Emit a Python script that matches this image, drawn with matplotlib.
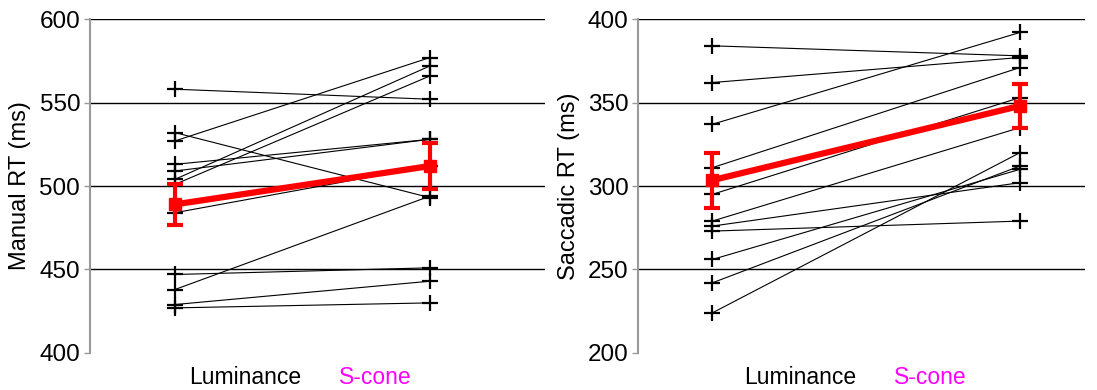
import matplotlib
matplotlib.use('Agg')
import matplotlib.pyplot as plt

plt.rcParams['font.family'] = ['Liberation Sans', 'DejaVu Sans']

#categorie e posizioni delle etichette
condizioni = ["Luminance", "S-cone"]
colori_etichette = ["black", "magenta"]

#RT manuali per soggetto (ms)
manual_lum = [558, 532, 527, 513, 509, 504, 501, 484, 447, 438, 429, 427]
manual_scone = [552, 493, 577, 528, 528, 572, 566, 512, 451, 494, 443, 430]
manual_media = [489, 512]
manual_err = [12.5, 14]

#RT saccadici per soggetto (ms)
sacc_lum = [384, 362, 337, 311, 295, 279, 276, 273, 256, 242, 224]
sacc_scone = [378, 377, 392, 371, 353, 335, 302, 279, 310, 312, 320]
sacc_media = [303.5, 348]
sacc_err = [16.5, 13]


def pannello(ax, lum, scone, media, err, ylim, ytick, ylabel, xlim, lab_x):
    for a, b in zip(lum, scone):
        ax.plot([0, 1], [a, b], color='black', lw=0.8, zorder=2)
    ax.plot([0] * len(lum), lum, '+', color='black', ms=11, mew=1.6, zorder=3)
    ax.plot([1] * len(scone), scone, '+', color='black', ms=11, mew=1.6, zorder=3)
    ax.errorbar([0, 1], media, yerr=err, color='red', lw=4.5, marker='s', ms=9,
                elinewidth=3, capsize=6, capthick=3, zorder=4)
    for t in ytick[1:]:
        ax.axhline(t, color='black', lw=1, zorder=1)
    ax.set_ylim(*ylim)
    ax.set_xlim(*xlim)
    ax.set_yticks(ytick)
    ax.set_xticks([])
    for s in ['top', 'right', 'bottom']:
        ax.spines[s].set_visible(False)
    ax.spines['left'].set_color('#999999')
    ax.spines['left'].set_linewidth(1.5)
    ax.tick_params(axis='y', colors='#999999', length=4, width=1, labelsize=17.5, pad=3)
    for lab in ax.get_yticklabels():
        lab.set_color('black')
    ax.set_ylabel(ylabel, fontsize=17, labelpad=6)
    for nome, col, xx in zip(condizioni, colori_etichette, lab_x):
        ax.text(xx, -0.075, nome, color=col, fontsize=16.5, ha='center', va='center',
                transform=ax.transAxes)


fig = plt.figure(figsize=(10.97, 3.90), dpi=100)
ax1 = fig.add_axes([0.082, 0.095, 0.415, 0.856])
ax2 = fig.add_axes([0.582, 0.095, 0.407, 0.856])

pannello(ax1, manual_lum, manual_scone, manual_media, manual_err,
         (400, 600), [400, 450, 500, 550, 600], "Manual RT (ms)", (-0.333, 1.451), [0.34, 0.626])
pannello(ax2, sacc_lum, sacc_scone, sacc_media, sacc_err,
         (200, 400), [200, 250, 300, 350, 400], "Saccadic RT (ms)", (-0.240, 1.211), [0.362, 0.653])

fig.savefig("out.png", dpi=100)
